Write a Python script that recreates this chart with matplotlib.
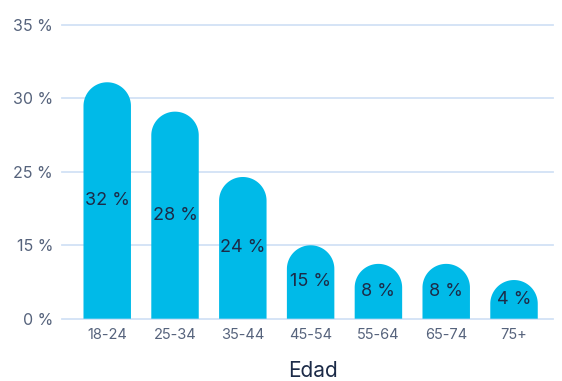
import numpy as np
import matplotlib
matplotlib.use("Agg")
import matplotlib.pyplot as plt
from matplotlib.patches import Polygon
from matplotlib.transforms import IdentityTransform

plt.rcParams['font.family'] = ['Inter', 'DejaVu Sans']

# datos
edades = ['18-24', '25-34', '35-44', '45-54', '55-64', '65-74', '75+']
etiquetas = [32, 28, 24, 15, 8, 8, 4]                 # texto de cada barra
alturas = [31.1, 29.1, 24.3, 15.0, 11.2, 11.2, 7.9]
ticks_y = [0, 15, 25, 30, 35]

color_barra = '#00BAE8'
color_texto = '#1C2B48'
color_ticks = '#56637C'
color_grid = '#D2E2F6'

# eje y con ticks equiespaciados (escala por tramos)
pos_ticks = np.arange(len(ticks_y), dtype=float)
def forward(v):
    return np.interp(v, ticks_y, pos_ticks)
def inverse(u):
    return np.interp(u, pos_ticks, ticks_y)

fig = plt.figure(figsize=(5.62, 3.81), dpi=100)
ax = fig.add_axes([62 / 562, 62.3 / 381, 491 / 562, 293.7 / 381])
ax.set_yscale('function', functions=(forward, inverse))
ax.set_ylim(0, 35)
x = np.arange(len(edades))
ax.set_xlim(-0.667, 6.575)
ax.set_yticks(ticks_y)
ax.set_yticklabels([f'{t} %' for t in ticks_y])
ax.set_xticks(x)
ax.set_xticklabels(edades)
ax.tick_params(axis='y', length=0, pad=6.5, labelsize=11.5, labelcolor=color_ticks)
ax.tick_params(axis='x', length=0, pad=7, labelsize=10.5, labelcolor=color_ticks)
ax.yaxis.set_minor_locator(matplotlib.ticker.NullLocator())
for s in ax.spines.values():
    s.set_visible(False)
ax.grid(axis='y', color=color_grid, linewidth=1.3)
ax.grid(axis='x', visible=False)
ax.set_axisbelow(True)
for ln in ax.get_ygridlines():
    ln.set_clip_on(False)

# barras con la parte superior redondeada (en pixeles)
ancho = 0.70
for xi, h, et in zip(x, alturas, etiquetas):
    (x0, y0) = ax.transData.transform((xi - ancho / 2, 0))
    (x1, y1) = ax.transData.transform((xi + ancho / 2, h))
    r = (x1 - x0) / 2
    xc = (x0 + x1) / 2
    ang = np.linspace(np.pi, 0, 60)
    arco = np.column_stack([xc + r * np.cos(ang), y1 - r + r * np.sin(ang)])
    pts = np.vstack([[x0, y0], arco, [x1, y0]])
    ax.add_artist(Polygon(pts, closed=True, facecolor=color_barra, edgecolor='none',
                          transform=IdentityTransform(), zorder=2))
    ymid = (y0 + y1) / 2
    ax.text(xc, ymid, f'{et} %', transform=IdentityTransform(), ha='center', va='center',
            fontsize=13, color=color_texto, zorder=3)

fig.text(313 / 562, 1 - 371 / 381, 'Edad', ha='center', va='center', fontsize=15, color=color_texto)

fig.savefig('out.png', dpi=100)
